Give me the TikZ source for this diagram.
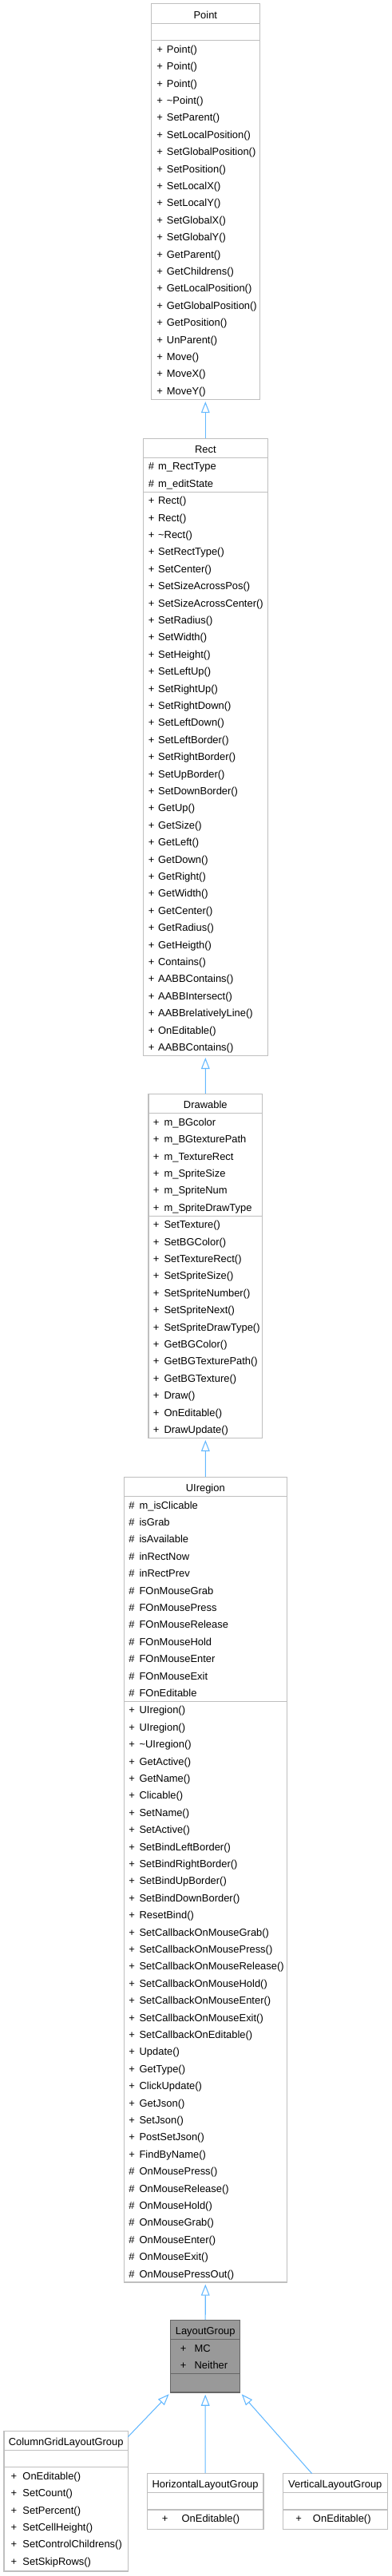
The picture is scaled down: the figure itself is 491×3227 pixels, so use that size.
\documentclass[tikz,border=0pt]{standalone}
\usepackage{fontspec}
\setmainfont{Liberation Sans}
\usetikzlibrary{fit,arrows.meta}
\definecolor{boxline}{RGB}{191,191,191}
\definecolor{arrowblue}{RGB}{99,184,255}
\definecolor{lgfill}{RGB}{153,153,153}
\definecolor{lgline}{RGB}{102,102,102}
\tikzset{
  cls/.style={draw=boxline, fill=white, line width=1.1pt, inner sep=0pt, rectangle},
  clsdark/.style={draw=lgline, fill=lgfill, line width=1.1pt, inner sep=0pt, rectangle},
  divline/.style={draw=boxline, line width=0.9pt},
  divdark/.style={draw=lgline, line width=0.9pt},
  rowtxt/.style={anchor=base west, inner sep=0pt, font=\fontsize{9.7}{11}\selectfont},
  titletxt/.style={anchor=base, inner sep=0pt, font=\fontsize{9.7}{11}\selectfont},
  inh/.style={draw=arrowblue, line width=0.8pt, -{Triangle[length=10.5pt,width=8pt,fill=white]}, shorten >=1.5pt}
}
% #1 x, #2 gap, #3 section top, #4 name prefix, #5 list prefix/name
\newcommand\classrows[5]{%
  \foreach \pp/\nn [count=\i] in {#5}{%
    \node[rowtxt] (#4-\i) at (#1,{#3+\i*21.4-5.8}) {\makebox[#2][l]{\pp}\nn};
  }%
}
\begin{document}
\begin{tikzpicture}[x=0.75pt,y=-0.75pt]
\useasboundingbox (0,0) rectangle (491,3227);

% ---------- Point ----------
\node[cls, fit={(189.3,4.7)(325.3,500.4)}] (point) {};
\draw[divline] (189.3,29.3) -- (325.3,29.3);
\draw[divline] (189.3,50.7) -- (325.3,50.7);
\node[titletxt] (point-t) at (257.3,23.0) {Point};
\classrows{196}{9.5pt}{50.7}{ptm}{+/Point(),+/Point(),+/Point(),+/\textasciitilde Point(),+/SetParent(),+/SetLocalPosition(),+/SetGlobalPosition(),+/SetPosition(),+/SetLocalX(),+/SetLocalY(),+/SetGlobalX(),+/SetGlobalY(),+/GetParent(),+/GetChildrens(),+/GetLocalPosition(),+/GetGlobalPosition(),+/GetPosition(),+/UnParent(),+/Move(),+/MoveX(),+/MoveY()}

% ---------- Rect ----------
\node[cls, fit={(179.3,549.3)(335.3,1322.3)}] (rect) {};
\draw[divline] (179.3,573.3) -- (335.3,573.3);
\draw[divline] (179.3,616.1) -- (335.3,616.1);
\node[titletxt] (rect-t) at (257.3,567.0) {Rect};
\classrows{185.5}{9.3pt}{573.3}{rca}{\#/m\_RectType,\#/m\_editState}
\classrows{185.5}{9.3pt}{616.1}{rcm}{+/Rect(),+/Rect(),+/\textasciitilde Rect(),+/SetRectType(),+/SetCenter(),+/SetSizeAcrossPos(),+/SetSizeAcrossCenter(),+/SetRadius(),+/SetWidth(),+/SetHeight(),+/SetLeftUp(),+/SetRightUp(),+/SetRightDown(),+/SetLeftDown(),+/SetLeftBorder(),+/SetRightBorder(),+/SetUpBorder(),+/SetDownBorder(),+/GetUp(),+/GetSize(),+/GetLeft(),+/GetDown(),+/GetRight(),+/GetWidth(),+/GetCenter(),+/GetRadius(),+/GetHeigth(),+/Contains(),+/AABBContains(),+/AABBIntersect(),+/AABBrelativelyLine(),+/OnEditable(),+/AABBContains()}

% ---------- Drawable ----------
\node[cls, fit={(186,1370.7)(328.7,1801.3)}] (drawable) {};
\draw[divline] (186,1394.7) -- (328.7,1394.7);
\draw[divline] (186,1523.1) -- (328.7,1523.1);
\node[titletxt] (drawable-t) at (257.3,1388.4) {Drawable};
\classrows{191.7}{10.2pt}{1394.7}{dra}{+/m\_BGcolor,+/m\_BGtexturePath,+/m\_TextureRect,+/m\_SpriteSize,+/m\_SpriteNum,+/m\_SpriteDrawType}
\classrows{191.7}{10.2pt}{1523.1}{drm}{+/SetTexture(),+/SetBGColor(),+/SetTextureRect(),+/SetSpriteSize(),+/SetSpriteNumber(),+/SetSpriteNext(),+/SetSpriteDrawType(),+/GetBGColor(),+/GetBGTexturePath(),+/GetBGTexture(),+/Draw(),+/OnEditable(),+/DrawUpdate()}

% ---------- UIregion ----------
\node[cls, fit={(155.3,1850.7)(359.3,2858.9)}] (uiregion) {};
\draw[divline] (155.3,1874.5) -- (359.3,1874.5);
\draw[divline] (155.3,2131.3) -- (359.3,2131.3);
\node[titletxt] (uiregion-t) at (257.3,1868.2) {UIregion};
\classrows{161}{10pt}{1874.5}{uia}{\#/m\_isClicable,\#/isGrab,\#/isAvailable,\#/inRectNow,\#/inRectPrev,\#/FOnMouseGrab,\#/FOnMousePress,\#/FOnMouseRelease,\#/FOnMouseHold,\#/FOnMouseEnter,\#/FOnMouseExit,\#/FOnEditable}
\classrows{161}{10pt}{2131.3}{uim}{+/UIregion(),+/UIregion(),+/\textasciitilde UIregion(),+/GetActive(),+/GetName(),+/Clicable(),+/SetName(),+/SetActive(),+/SetBindLeftBorder(),+/SetBindRightBorder(),+/SetBindUpBorder(),+/SetBindDownBorder(),+/ResetBind(),+/SetCallbackOnMouseGrab(),+/SetCallbackOnMousePress(),+/SetCallbackOnMouseRelease(),+/SetCallbackOnMouseHold(),+/SetCallbackOnMouseEnter(),+/SetCallbackOnMouseExit(),+/SetCallbackOnEditable(),+/Update(),+/GetType(),+/ClickUpdate(),+/GetJson(),+/SetJson(),+/PostSetJson(),+/FindByName(),\#/OnMousePress(),\#/OnMouseRelease(),\#/OnMouseHold(),\#/OnMouseGrab(),\#/OnMouseEnter(),\#/OnMouseExit(),\#/OnMousePressOut()}

% ---------- LayoutGroup ----------
\node[clsdark, fit={(213.7,2906.7)(300.7,2997)}] (lg) {};
\draw[divdark] (213.7,2930.5) -- (300.7,2930.5);
\draw[divdark] (213.7,2973.3) -- (300.7,2973.3);
\node[titletxt] (lg-t) at (257.2,2924.8) {LayoutGroup};
\classrows{225.7}{13.2pt}{2930.5}{lga}{+/MC,+/Neither}

% ---------- ColumnGridLayoutGroup ----------
\node[cls, fit={(5,3045.3)(160.3,3221)}] (cg) {};
\draw[divline] (5,3069.3) -- (160.3,3069.3);
\draw[divline] (5,3090.7) -- (160.3,3090.7);
\node[titletxt] (cg-t) at (82.7,3063.0) {ColumnGridLayoutGroup};
\classrows{13.3}{11.2pt}{3090.7}{cgm}{+/OnEditable(),+/SetCount(),+/SetPercent(),+/SetCellHeight(),+/SetControlChildrens(),+/SetSkipRows()}

% ---------- HorizontalLayoutGroup ----------
\node[cls, fit={(184.3,3098.7)(330,3168.3)}] (hor) {};
\draw[divline] (184.3,3122.7) -- (330,3122.7);
\draw[divline] (184.3,3144) -- (330,3144);
\node[titletxt] (hor-t) at (257.15,3116.4) {HorizontalLayoutGroup};
\classrows{202.7}{18.5pt}{3144}{hom}{+/OnEditable()}

% ---------- VerticalLayoutGroup ----------
\node[cls, fit={(354.3,3098.7)(485.3,3168.3)}] (ver) {};
\draw[divline] (354.3,3122.7) -- (485.3,3122.7);
\draw[divline] (354.3,3144) -- (485.3,3144);
\node[titletxt] (ver-t) at (419.8,3116.4) {VerticalLayoutGroup};
\classrows{370}{16.3pt}{3144}{vem}{+/OnEditable()}

% ---------- Inheritance connectors ----------
\draw[inh] (rect.north) -- (point.south);
\draw[inh] (drawable.north) -- (rect.south);
\draw[inh] (uiregion.north) -- (drawable.south);
\draw[inh] (lg.north) -- (uiregion.south);
\coordinate (cgs) at (160.3,3052.7);
\coordinate (vls) at (390.7,3098.7);
\draw[inh] (cgs) -- (lg.south west);
\draw[inh] (hor.north) -- (lg.south);
\draw[inh] (vls) -- (lg.south east);
\end{tikzpicture}
\end{document}
